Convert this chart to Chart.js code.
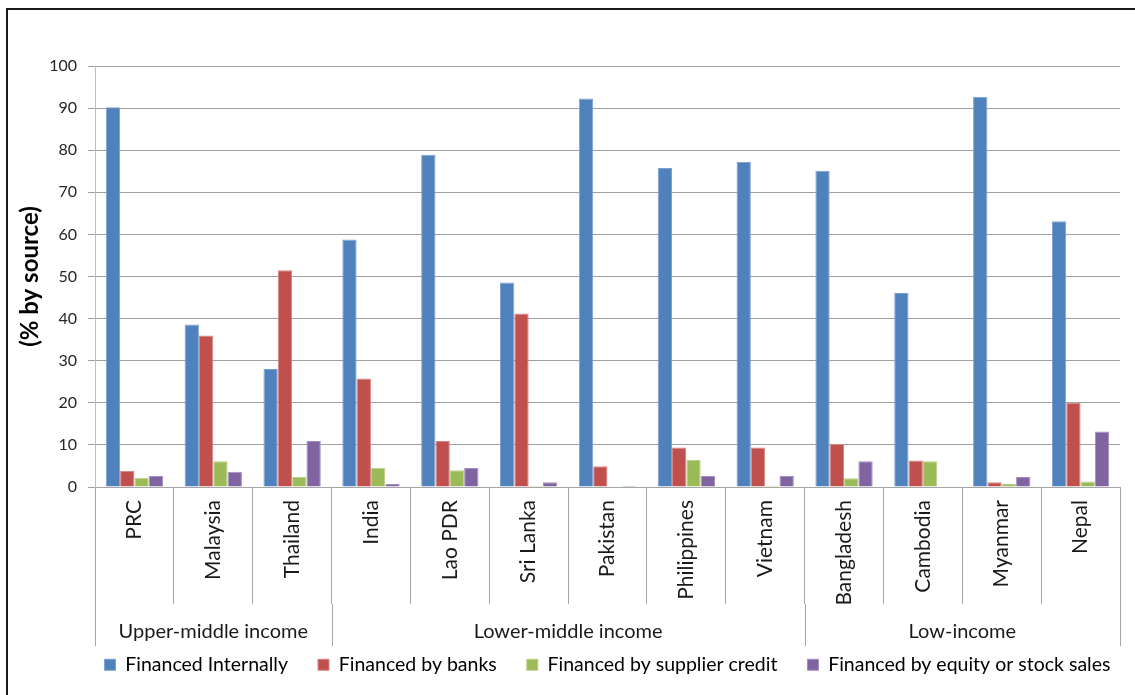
<!DOCTYPE html>
<html>
<head>
<meta charset="utf-8">
<title>Sources of investment finance</title>
<script src="https://cdn.jsdelivr.net/npm/chart.js@4"></script>
<style>
  html, body { margin: 0; padding: 0; background: #fff; }
  #wrap { width: 1135px; height: 695px; }
</style>
</head>
<body>
<div id="wrap"><canvas id="financeChart" width="1135" height="695"></canvas></div>
<script>
// --- data ---
const countries = ['PRC', 'Malaysia', 'Thailand', 'India', 'Lao PDR', 'Sri Lanka', 'Pakistan',
                   'Philippines', 'Vietnam', 'Bangladesh', 'Cambodia', 'Myanmar', 'Nepal'];
const groupNames = ['Upper-middle income', 'Lower-middle income', 'Low-income'];
const groupSizes = [3, 6, 4];

const financedInternally = [90.2, 38.6, 28.0, 58.8, 78.9, 48.6, 92.3, 75.8, 77.2, 75.1, 46.1, 92.7, 63.1];
const financedByBanks    = [3.8, 36.0, 51.5, 25.8, 10.9, 41.2, 4.9, 9.4, 9.4, 10.2, 6.3, 1.1, 20.0];
const financedBySupplier = [2.2, 6.1, 2.4, 4.5, 4.0, 0.3, 0, 6.5, 0.3, 2.1, 6.1, 0.7, 1.3];
const financedByEquity   = [2.6, 3.6, 10.9, 0.7, 4.5, 1.1, 0.3, 2.6, 2.6, 6.1, 0, 2.4, 13.2];

const yTicks = [0, 10, 20, 30, 40, 50, 60, 70, 80, 90, 100];

const FONT = 'Lato';
const AXIS_GREY = '#a6a6a6';

// white background, frame edges and the income-group row under the category labels
const groupAxisPlugin = {
    id: 'groupAxis',
    afterLayout(chart) {
        // one legend row, wider than the plot but still centred on it
        const lg = chart.legend;
        const area = chart.chartArea;
        const mid = (area.left + area.right) / 2;
        lg.maxWidth = chart.width - 20;
        lg.fit();
        lg.left = mid - lg.width / 2;
        lg.right = mid + lg.width / 2;
    },
    beforeDraw(chart) {
        const ctx = chart.ctx;
        ctx.save();
        ctx.fillStyle = '#fff';
        ctx.fillRect(0, 0, chart.width, chart.height);
        ctx.strokeStyle = '#1a1a1a';
        ctx.lineWidth = 2;
        ctx.beginPath();
        ctx.moveTo(7, chart.height);
        ctx.lineTo(7, 9);
        ctx.lineTo(chart.width, 9);
        ctx.stroke();
        ctx.restore();
    },
    afterDraw(chart) {
        const xs = chart.scales.x;
        const ctx = chart.ctx;
        const half = (xs.getPixelForValue(1) - xs.getPixelForValue(0)) / 2;
        const lineTop = xs.top + 117;
        const lineBottom = xs.top + 159;

        ctx.save();
        ctx.strokeStyle = AXIS_GREY;
        ctx.lineWidth = 1;
        ctx.font = '20px ' + FONT;
        ctx.fillStyle = '#1a1a1a';
        ctx.textAlign = 'center';
        ctx.textBaseline = 'middle';

        let start = 0;
        const edges = [xs.getPixelForValue(0) - half];
        groupSizes.forEach((n, i) => {
            const left = xs.getPixelForValue(start) - half;
            const right = xs.getPixelForValue(start + n - 1) + half;
            ctx.fillText(groupNames[i], (left + right) / 2, xs.top + 145);
            edges.push(right);
            start += n;
        });

        ctx.beginPath();
        edges.forEach(px => {
            const x = Math.round(px) + 0.5;
            ctx.moveTo(x, lineTop);
            ctx.lineTo(x, lineBottom);
        });
        ctx.stroke();
        ctx.restore();
    }
};

function barSet(label, data, fill, edge) {
    return {
        label: label,
        data: data,
        backgroundColor: fill,
        borderColor: edge,
        borderWidth: 1,
        categoryPercentage: 0.727,
        barPercentage: 1.0
    };
}

new Chart(document.getElementById('financeChart'), {
    type: 'bar',
    data: {
        labels: countries,
        datasets: [
            barSet('Financed Internally', financedInternally, '#4f81bd', '#7ea2d0'),
            barSet('Financed by banks', financedByBanks, '#c0504d', '#d68583'),
            barSet('Financed by supplier credit', financedBySupplier, '#9bbb59', '#b9d089'),
            barSet('Financed by equity or stock sales', financedByEquity, '#8064a2', '#a28fbb')
        ]
    },
    options: {
        responsive: false,
        animation: false,
        devicePixelRatio: 1,
        layout: { padding: { top: 66, right: 15, bottom: 10, left: 0 } },
        plugins: {
            legend: {
                position: 'bottom',
                fullSize: false,
                maxHeight: 60,
                labels: {
                    boxWidth: 11,
                    boxHeight: 11,
                    padding: 30,
                    color: '#000',
                    font: { family: FONT, size: 19.5 }
                }
            },
            tooltip: { enabled: false }
        },
        scales: {
            x: {
                grid: {
                    drawOnChartArea: false,
                    drawTicks: true,
                    tickLength: 117,
                    color: AXIS_GREY
                },
                border: { color: AXIS_GREY },
                ticks: {
                    autoSkip: false,
                    minRotation: 90,
                    maxRotation: 90,
                    padding: -104,
                    color: '#1a1a1a',
                    font: { family: FONT, size: 21 }
                },
                afterFit: scale => { scale.height = 138; }
            },
            y: {
                min: 0,
                max: 100,
                afterBuildTicks: scale => { scale.ticks = yTicks.map(v => ({ value: v })); },
                grid: { color: '#a0a0a0', tickLength: 7 },
                border: { color: '#bfbfbf' },
                ticks: {
                    padding: 11,
                    color: '#262626',
                    font: { family: FONT, size: 16 }
                },
                title: {
                    display: true,
                    text: '(% by source)',
                    color: '#000',
                    padding: { top: 16, bottom: 0 },
                    font: { family: FONT, size: 24, weight: 'bold' }
                },
                afterFit: scale => { scale.width = 95; }
            }
        }
    },
    plugins: [groupAxisPlugin]
});
</script>
</body>
</html>
